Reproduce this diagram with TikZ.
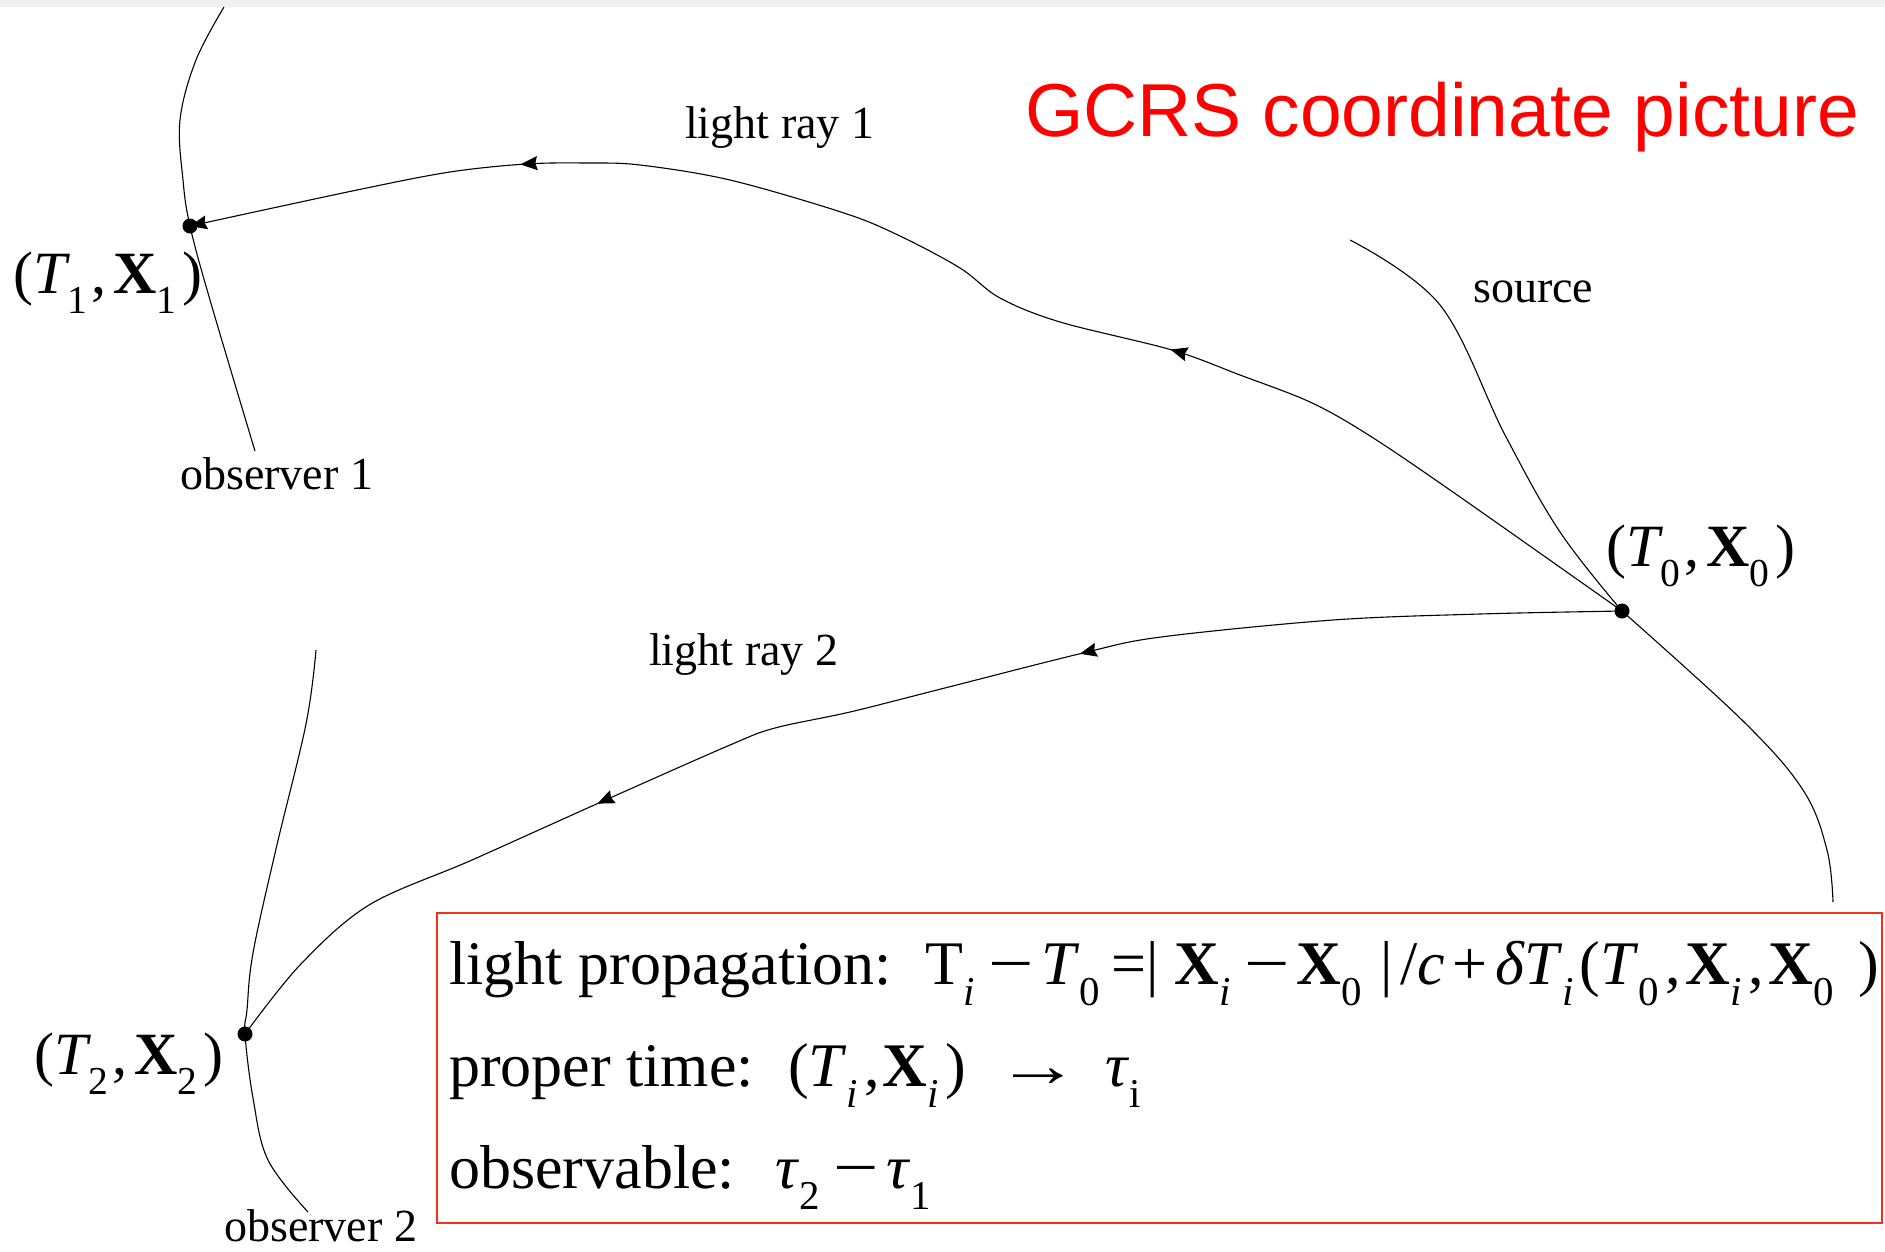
\documentclass[tikz,border=0pt]{standalone}
\usepackage{fontspec}
\setmainfont{Liberation Serif}
\newfontfamily\titlefont{Liberation Sans}
\usetikzlibrary{arrows.meta,decorations.markings}
\definecolor{boxred}{RGB}{245,50,25}
\definecolor{titlered}{RGB}{255,0,0}
\newcommand\lsub[1]{\raisebox{-0.34em}{\scalebox{0.66}{#1}}\kern0.1em}
\newcommand\evlabel[1]{(\textit{T}\kern-0.04em\lsub{#1}\kern-0.04em,\kern0.12em\textbf{X}\lsub{#1})}
\newcommand\sminus{\hspace{0.12em}\scalebox{1.3}[1]{−}\hspace{0.12em}}
\tikzset{
  >={Stealth[length=17pt,width=14pt,inset=2pt]},
  line/.style={line width=1.1pt,black},
  lbl/.style={inner sep=0pt,anchor=base west,font=\fontsize{46}{55}\selectfont},
  evl/.style={inner sep=0pt,anchor=base west,font=\fontsize{60}{66}\selectfont},
  boxtxt/.style={inner sep=0pt,anchor=base west,font=\fontsize{62}{70}\selectfont},
  evdot/.style={circle,fill=black,inner sep=0pt,minimum size=15pt},
}
\begin{document}
\begin{tikzpicture}[x=1pt,y=-1pt]
\useasboundingbox (0,0) rectangle (1885,1251);
\fill[white] (0,0) rectangle (1885,1251);
\fill[gray!12] (0,0) rectangle (1885,7);

% events
\coordinate (T0) at (1622,611);
\coordinate (T1) at (190,226);
\coordinate (T2) at (245,1034);

% observer 1 worldline
\coordinate (o1top) at (224,7);
\coordinate (o1bot) at (255,451);
\draw[line] plot[smooth,tension=0.6] coordinates {(o1top) (196,60) (180,120) (183,180) (T1) (210,300) (o1bot)};

% observer 2 worldline
\coordinate (o2top) at (316,650);
\coordinate (o2bot) at (308,1212);
\draw[line] plot[smooth,tension=0.6] coordinates {(o2top) (306,724) (276,849) (253,953) (247,1010) (T2) (253,1098) (268,1160) (o2bot)};

% source worldline
\coordinate (srctop) at (1350,240);
\coordinate (srcbot) at (1833,902);
\draw[line] plot[smooth,tension=0.6] coordinates {(srctop) (1440,305) (1505,435) (1560,532) (T0)};
\draw[line] plot[smooth,tension=0.6] coordinates {(T0) (1743,721) (1803,790) (1827,850) (srcbot)};

% light ray 1
\draw[line,->,postaction={decorate},
  decoration={markings,
    mark=at position 525pt with {\arrow{>}},
    mark=at position 1212pt with {\arrow{>}}}]
  plot[smooth,tension=0.55] coordinates {(T0) (1450,490) (1367,434) (1310,402) (1240,375) (1172,350) (1060,322) (1000,298) (960,268) (900,236) (844,213) (730,180) (640,165) (586,163) (526,164) (450,172) (357,190) (T1)};

% light ray 2
\draw[line,postaction={decorate},
  decoration={markings,
    mark=at position 545pt with {\arrow{>}},
    mark=at position 1052pt with {\arrow{>}}}]
  plot[smooth,tension=0.55] coordinates {(T0) (1480,614) (1333,620) (1161,637) (1083,653) (937,690) (850,712) (775,728) (730,745) (601,802) (472,860) (369,905) (300,965) (T2)};

\node[evdot] (d0) at (T0) {};
\node[evdot] (d1) at (T1) {};
\node[evdot] (d2) at (T2) {};

% labels
\node[evl] (l1) at (13,293) {\evlabel{1}};
\node[evl] (l0) at (1606,566) {\evlabel{0}};
\node[evl] (l2) at (34,1074) {\evlabel{2}};

\node[lbl] (ray1) at (685,138) {light ray 1};
\node[lbl] (ray2) at (649,665) {light ray 2};
\node[lbl] (obs1) at (180,489) {observer 1};
\node[lbl] (obs2) at (224,1241) {observer 2};
\node[lbl] (src) at (1473,302) {source};

\node[inner sep=0pt,anchor=base west,text=titlered,font=\titlefont\fontsize{75}{80}\selectfont] (title) at (1025,136) {GCRS coordinate picture};

% formula box
\draw[boxred,line width=2.6pt] (437,913) rectangle (1882,1223);
\node[boxtxt] (f1) at (449,984) {light propagation:\hspace{0.55em}T\lsub{\textit{i}}\sminus\textit{T}\lsub{0}\hspace{0.08em}=|\hspace{0.25em}\textbf{X}\lsub{\textit{i}}\sminus\textbf{X}\lsub{0}\hspace{0.2em}|\hspace{0.12em}/\textit{c}\hspace{0.12em}+\hspace{0.12em}\textit{δT}\lsub{\textit{i}}(\textit{T}\lsub{0},\hspace{0.08em}\textbf{X}\lsub{\textit{i}},\hspace{0.08em}\textbf{X}\lsub{0}\hspace{0.3em})};
\node[boxtxt] (f2) at (449,1086) {proper time:\hspace{0.55em}(\textit{T}\lsub{\textit{i}},\hspace{0.05em}\textbf{X}\lsub{\textit{i}})\hspace{0.5em}\scalebox{1.35}[1]{→}\hspace{0.4em}\textit{τ}\lsub{i}};
\node[boxtxt] (f3) at (449,1188) {observable:\hspace{0.65em}\textit{τ}\lsub{2}\sminus\textit{τ}\lsub{1}};
\end{tikzpicture}
\end{document}
